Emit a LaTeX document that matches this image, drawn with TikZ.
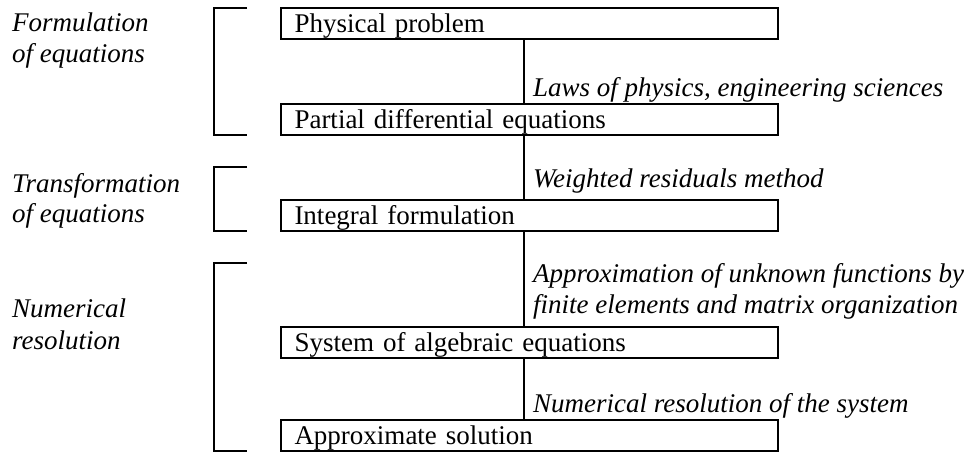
\documentclass[tikz,border=0pt]{standalone}
\usepackage{fontspec}
\setmainfont{Liberation Serif}
\begin{document}
\begin{tikzpicture}[x=1pt,y=-1pt,
  every node/.style={font=\fontsize{27}{31}\selectfont},
  box/.style={draw, line width=2pt, rectangle, outer sep=0pt, anchor=north west,
    minimum width=497pt, minimum height=31pt, text width=470pt, align=left,
    inner xsep=13.5pt, inner ysep=0pt, text height=20pt, text depth=2pt},
  lab/.style={anchor=base west, inner sep=0pt, font=\fontsize{27}{31}\selectfont\itshape},
  conn/.style={line width=2pt},
  brk/.style={line width=2pt}]
\useasboundingbox (0,0) rectangle (977,452);
% boxes
\node[box] (b1) at (281,8.3) {Physical problem};
\node[box] (b2) at (281,103.5) {Partial differential equations};
\node[box] (b3) at (281,199.5) {Integral formulation};
\node[box] (b4) at (281,326.5) {System of algebraic equations};
\node[box] (b5) at (281,420) {Approximate solution};
% connectors
\coordinate (cx) at (523.7,0);
\draw[conn] (b1.south -| cx) -- (b2.north -| cx);
\draw[conn] (b2.south -| cx) -- (b3.north -| cx);
\draw[conn] (b3.south -| cx) -- (b4.north -| cx);
\draw[conn] (b4.south -| cx) -- (b5.north -| cx);
% connector labels
\node[lab] (t1) at (533,96) {Laws of physics, engineering sciences};
\node[lab] (t2) at (533,187) {Weighted residuals method};
\node[lab] (t3a) at (533,282) {Approximation of unknown functions by};
\node[lab] (t3b) at (533,313) {finite elements and matrix organization};
\node[lab] (t4) at (533,412) {Numerical resolution of the system};
% brackets
\draw[brk] (247,8.3) -- (214.3,8.3) -- (214.3,134.5) -- (247,134.5);
\draw[brk] (247,167) -- (214.3,167) -- (214.3,230.5) -- (247,230.5);
\draw[brk] (247,263.3) -- (214.3,263.3) -- (214.3,451) -- (247,451);
% stage labels
\node[lab] (s1a) at (12,32) {Formulation};
\node[lab] (s1b) at (12,63) {of equations};
\node[lab] (s2a) at (12,192) {Transformation};
\node[lab] (s2b) at (12,222) {of equations};
\node[lab] (s3a) at (12,317) {Numerical};
\node[lab] (s3b) at (12,349) {resolution};
\end{tikzpicture}
\end{document}
